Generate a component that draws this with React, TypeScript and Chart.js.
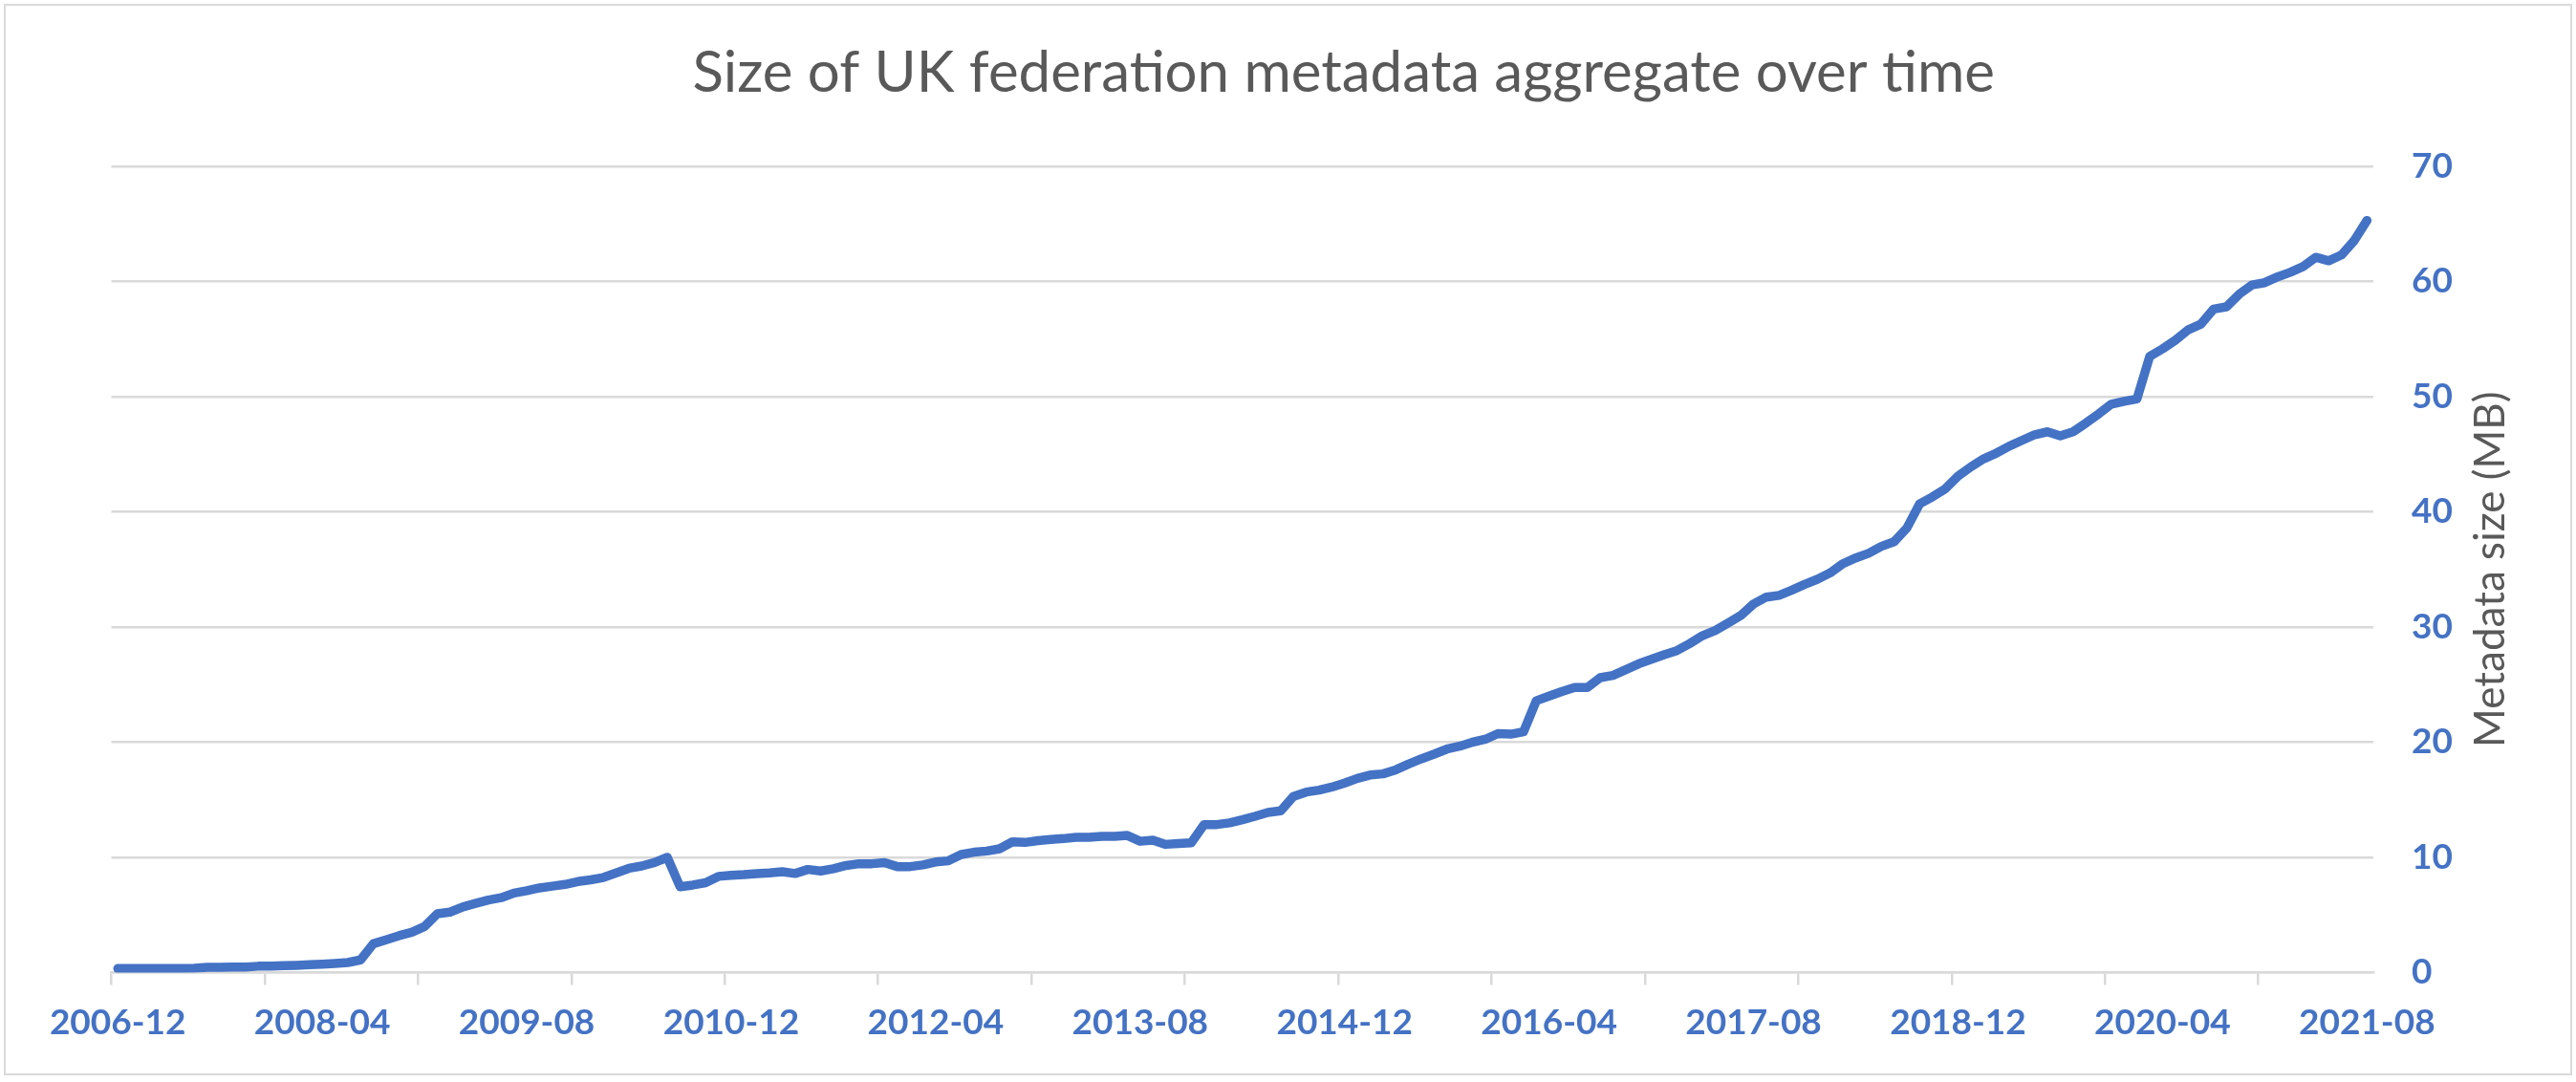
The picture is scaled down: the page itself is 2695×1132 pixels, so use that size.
import { useEffect, useRef } from "react"
import { Chart, registerables } from "chart.js"

Chart.register(...registerables)

const chartTitle = "Size of UK federation metadata aggregate over time"
const yAxisTitle = "Metadata size (MB)"

// monthly samples, first month and count
const firstMonth = "2006-12"
const monthCount = 177

// labels Excel showed on the category axis (every 16th month)
const tickLabels = [
  "2006-12", "2008-04", "2009-08", "2010-12", "2012-04", "2013-08",
  "2014-12", "2016-04", "2017-08", "2018-12", "2020-04", "2021-08",
]

// aggregate size in MB, one value per month from 2006-12
const sizeMB = [
  0.35, 0.35, 0.35, 0.35, 0.35, 0.36, 0.37, 0.45, 0.46, 0.47, 0.48, 0.55,
  0.57, 0.6, 0.63, 0.68, 0.73, 0.79, 0.87, 1.1, 2.5, 2.85, 3.2, 3.5,
  4.0, 5.1, 5.25, 5.7, 6.0, 6.3, 6.5, 6.9, 7.1, 7.35, 7.5, 7.65,
  7.9, 8.05, 8.25, 8.65, 9.05, 9.25, 9.55, 10.0, 7.45, 7.6, 7.8, 8.35,
  8.45, 8.5, 8.58, 8.65, 8.75, 8.6, 8.95, 8.82, 9.02, 9.3, 9.45, 9.45,
  9.55, 9.2, 9.2, 9.35, 9.6, 9.7, 10.25, 10.45, 10.55, 10.75, 11.35, 11.3,
  11.45, 11.55, 11.63, 11.74, 11.74, 11.83, 11.83, 11.9, 11.4, 11.5, 11.13, 11.2,
  11.27, 12.85, 12.85, 13.0, 13.27, 13.57, 13.9, 14.04, 15.3, 15.67, 15.84, 16.1,
  16.45, 16.86, 17.15, 17.25, 17.6, 18.1, 18.55, 18.96, 19.4, 19.65, 20.0, 20.25,
  20.75, 20.7, 20.9, 23.6, 24.0, 24.4, 24.75, 24.75, 25.6, 25.8, 26.3, 26.8,
  27.2, 27.6, 27.95, 28.56, 29.25, 29.7, 30.35, 31.0, 32.0, 32.6, 32.75, 33.2,
  33.7, 34.15, 34.7, 35.5, 36.0, 36.4, 37.0, 37.4, 38.6, 40.7, 41.3, 42.0,
  43.1, 43.9, 44.6, 45.1, 45.7, 46.2, 46.7, 46.95, 46.6, 46.95, 47.7, 48.5,
  49.35, 49.6, 49.8, 53.5, 54.15, 54.9, 55.8, 56.3, 57.6, 57.8, 58.9, 59.7,
  59.9, 60.4, 60.8, 61.3, 62.1, 61.8, 62.3, 63.55, 65.3,
]

const yTicks = [0, 10, 20, 30, 40, 50, 60, 70]

function buildMonths(start: string, count: number) {
  const [y0, m0] = start.split("-").map(Number)
  const out: string[] = []
  for (let i = 0; i < count; i++) {
    const m = m0 - 1 + i
    const y = y0 + Math.floor(m / 12)
    out.push(`${y}-${String((m % 12) + 1).padStart(2, "0")}`)
  }
  return out
}

const months = buildMonths(firstMonth, monthCount)

const BLUE = "#4472C4"
const GRID = "#d9d9d9"
const GREY = "#595959"
const FONT = "Lato, 'Noto Sans', sans-serif"

// right axis title reads bottom-to-top in the original, Chart.js would rotate it the other way
const rightTitlePlugin = {
  id: "rightTitle",
  afterDraw(chart: Chart) {
    const { ctx, chartArea } = chart
    ctx.save()
    ctx.translate(chartArea.right + 123, (chartArea.top + chartArea.bottom) / 2)
    ctx.rotate(-Math.PI / 2)
    ctx.font = `44px ${FONT}`
    ctx.fillStyle = GREY
    ctx.textAlign = "center"
    ctx.textBaseline = "middle"
    ctx.fillText(yAxisTitle, 0, 0)
    ctx.restore()
  },
}

function SizeChart() {
  const chartRef = useRef<HTMLCanvasElement>(null)
  const chartInstance = useRef<Chart | null>(null)

  useEffect(() => {
    if (!chartRef.current) return
    if (chartInstance.current) chartInstance.current.destroy()

    const ctx = chartRef.current.getContext("2d")
    if (!ctx) return

    chartInstance.current = new Chart(ctx, {
      type: "line",
      data: {
        labels: months,
        datasets: [
          {
            label: "Size",
            data: sizeMB,
            borderColor: BLUE,
            borderWidth: 9.5,
            borderCapStyle: "round",
            borderJoinStyle: "round",
            pointRadius: 0,
            tension: 0,
            fill: false,
          },
        ],
      },
      options: {
        responsive: false,
        animation: false,
        layout: { padding: { left: 116.5, right: 0, top: 0, bottom: 0 } },
        plugins: {
          legend: { display: false },
          tooltip: { enabled: false },
          title: {
            display: true,
            text: chartTitle,
            color: GREY,
            font: { family: FONT, size: 60, weight: "normal", lineHeight: 1.2 },
            padding: { top: 41, bottom: 61 },
          },
        },
        scales: {
          x: {
            type: "category",
            offset: true,
            afterFit: (scale) => {
              scale.height = 114.5
            },
            grid: {
              offset: true,
              drawOnChartArea: false,
              drawTicks: true,
              tickLength: 13,
              lineWidth: 2.5,
              color: (c) => (c.index !== undefined && c.index % 12 === 0 ? GRID : "rgba(0,0,0,0)"),
            },
            border: { display: true, color: GRID, width: 2.5 },
            ticks: {
              autoSkip: false,
              maxRotation: 0,
              minRotation: 0,
              padding: 17,
              color: BLUE,
              font: { family: FONT, size: 37, weight: "bold", lineHeight: 1.2 },
              callback: (_v, i) => (tickLabels.includes(months[i]) ? months[i] : ""),
            },
          },
          y: {
            position: "right",
            min: yTicks[0],
            max: yTicks[yTicks.length - 1],
            afterFit: (scale) => {
              scale.width = 212
            },
            afterBuildTicks: (scale) => {
              scale.ticks = yTicks.map((v) => ({ value: v }))
            },
            grid: { color: GRID, lineWidth: 2.5, drawTicks: false },
            border: { display: false },
            ticks: {
              padding: 40,
              color: BLUE,
              font: { family: FONT, size: 37, weight: "bold", lineHeight: 1.2 },
            },
          },
        },
      },
      plugins: [rightTitlePlugin],
    })

    return () => {
      if (chartInstance.current) {
        chartInstance.current.destroy()
        chartInstance.current = null
      }
    }
  }, [])

  return <canvas ref={chartRef} width={2695} height={1132} style={{ display: "block" }} />
}

export default function App() {
  useEffect(() => {
    document.body.style.margin = "0"
  }, [])

  return (
    <div style={{ position: "relative", width: 2695, height: 1132, background: "#fff" }}>
      <SizeChart />
      <div
        style={{
          position: "absolute",
          left: 4,
          top: 4,
          width: 2683,
          height: 1117,
          border: `2.5px solid ${GRID}`,
          pointerEvents: "none",
        }}
      />
    </div>
  )
}
